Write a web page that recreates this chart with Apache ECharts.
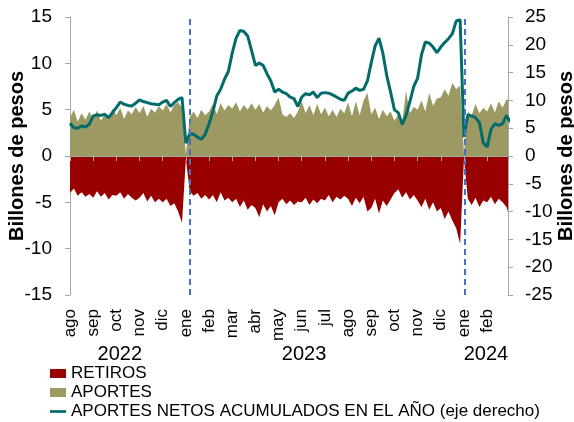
<!DOCTYPE html>
<html>
<head>
<meta charset="utf-8">
<script src="https://cdn.jsdelivr.net/npm/echarts@6/dist/echarts.min.js"></script>
<style>
  html, body { margin: 0; padding: 0; background: #fff; }
  #chart { width: 574px; height: 422px; }
</style>
</head>
<body>
<div id="chart"></div>
<script>
// etiquetas del eje x (un mes por tick, desde ago-2022)
const meses = ['ago', 'sep', 'oct', 'nov', 'dic', 'ene', 'feb', 'mar', 'abr', 'may', 'jun', 'jul', 'ago', 'sep', 'oct', 'nov', 'dic', 'ene', 'feb']
const anios = ['2022', '2023', '2024']
const posicionAnios = [2.15, 10.1, 17.95]
const cortesAnuales = [5.18, 17.05]
const puntosPorMes = 6

// billones de pesos, eje izquierdo (6 lecturas por mes)
const aportes = [
  4.1, 5.0, 3.7, 4.6, 3.9, 4.8,
  4.0, 4.9, 3.8, 4.5, 4.2, 5.1,
  4.4, 5.2, 4.0, 4.9, 4.5, 5.3,
  4.6, 5.4, 4.2, 5.1, 4.7, 5.4,
  4.9, 5.6, 4.7, 5.5, 5.8, 5.2,
  0.2, 4.2, 4.8, 4.1, 5.0, 4.4,
  4.8, 5.6, 4.5, 5.7, 4.9, 5.5,
  5.1, 5.8, 4.8, 5.5, 5.0, 5.7,
  5.0, 5.6, 4.7, 5.4, 4.9, 5.5,
  6.3, 4.5, 4.2, 4.6, 4.1, 4.8,
  5.9, 4.6, 5.5, 4.4, 5.6, 4.5,
  5.2, 4.3, 5.0, 4.2, 5.1, 4.6,
  5.8, 4.3, 5.9, 4.4, 6.0, 6.8,
  4.5, 5.2, 4.0, 5.0, 4.3, 4.8,
  3.8, 4.5, 3.6, 7.0, 4.6, 5.3,
  5.0, 6.0, 4.8, 6.8, 5.4, 6.2,
  6.3, 7.2, 6.5, 7.9, 7.2, 7.6,
  0.3, 4.8, 4.4, 5.6, 4.6, 5.2,
  4.8, 5.7, 4.7, 5.9, 5.2, 6.1,
  6.0
]

const retiros = [
  -4.0, -3.5, -4.3, -3.9, -4.4, -4.1,
  -4.5, -3.8, -4.4, -4.0, -4.7, -4.2,
  -4.3, -3.9, -4.6, -4.1, -4.5, -4.8,
  -4.5, -4.0, -4.9, -4.3, -5.0, -4.6,
  -5.0, -4.6, -5.4, -5.1, -6.0, -7.2,
  -0.3, -3.8, -4.3, -4.0, -4.6, -4.2,
  -4.7, -4.2, -5.0, -3.9, -4.8, -4.5,
  -5.0, -4.6, -5.5, -4.8, -5.8, -5.3,
  -5.6, -6.6, -5.2, -6.0, -5.4, -6.4,
  -5.0, -4.6, -5.2, -4.8, -5.3, -4.9,
  -5.0, -4.5, -5.3, -4.7, -5.1, -4.6,
  -4.8, -4.2, -5.0, -4.4, -4.7, -4.3,
  -4.6, -5.4, -4.5, -5.1, -4.4, -6.0,
  -5.6, -4.6, -6.2, -4.8, -5.4, -4.7,
  -4.0, -3.6, -4.5, -3.9, -4.7, -4.2,
  -4.8, -5.5, -4.6, -5.8, -5.0, -6.0,
  -5.6, -6.8, -6.0, -7.0, -7.8, -9.5,
  -0.3, -4.6, -5.3, -4.5, -5.5, -4.8,
  -5.0, -4.4, -5.2, -4.6, -5.0, -5.5,
  -6.8
]

// eje derecho
const netosAcumulados = [
  5.9, 5.1, 5.0, 5.4, 5.2, 5.7,
  7.2, 7.4, 7.3, 7.5, 6.9, 7.8,
  8.7, 9.7, 9.3, 9.1, 9.0, 9.5,
  10.1, 9.8, 9.6, 9.4, 9.3, 9.2,
  9.7, 10.0, 8.9, 9.6, 10.2, 10.5,
  2.3, 4.0, 3.9, 3.4, 3.0, 3.9,
  5.8, 8.0, 10.8, 12.0, 13.8, 15.2,
  18.5, 21.2, 22.6, 22.4, 21.6, 19.0,
  16.3, 16.7, 16.3, 14.8, 13.5, 11.5,
  12.0, 11.5, 11.2, 10.6, 10.3, 8.9,
  10.6, 11.2, 11.0, 11.5, 10.5, 11.3,
  11.4, 11.3, 11.0, 10.6, 10.2, 10.0,
  11.3, 11.7, 12.2, 11.8, 12.0, 13.5,
  16.8, 19.8, 21.2, 18.5, 14.5, 11.5,
  8.3, 7.8, 5.7, 7.3, 9.8, 12.5,
  14.0, 18.2, 20.5, 20.3, 19.6, 18.6,
  19.6, 20.4, 21.1, 22.0, 24.3, 24.5,
  3.4, 7.4, 7.2, 6.9, 6.0, 2.4,
  1.6, 4.8, 5.8, 5.5, 5.8, 7.3,
  6.1
]

const fuente = 'Arial, "Liberation Sans", sans-serif'
const gris = '#A6A6A6'
const conX = serie => serie.map((v, i) => [i / puntosPorMes, v])
const masCercano = (lista, v) => {
  let k = 0
  lista.forEach((p, i) => { if (Math.abs(p - v) < Math.abs(lista[k] - v)) k = i })
  return k
}

const chart = echarts.init(document.getElementById('chart'))

const ejeY = (min, max, posicion, gap, margen) => ({
  type: 'value',
  min: min,
  max: max,
  interval: 5,
  position: posicion,
  name: 'Billones de pesos',
  nameLocation: 'middle',
  nameRotate: 90,
  nameGap: gap,
  nameMoveOverlap: false,
  nameTextStyle: { fontFamily: fuente, fontSize: 20, fontWeight: 'bold', color: '#000' },
  axisLine: { show: true, onZero: false, lineStyle: { color: gris } },
  axisTick: { show: true, length: 5, lineStyle: { color: gris } },
  axisLabel: { fontFamily: fuente, fontSize: 19, margin: margen, color: '#000' },
  splitLine: { show: false }
})

const option = {
  animation: false,
  textStyle: { fontFamily: fuente, color: '#000' },
  grid: { left: 70, right: 66, top: 17, bottom: 127, outerBoundsMode: 'none', containLabel: false },
  legend: {
    orient: 'vertical',
    left: 50,
    top: 364,
    padding: 0,
    itemGap: 0,
    itemWidth: 16,
    itemHeight: 9,
    selectedMode: false,
    textStyle: { fontFamily: fuente, fontSize: 17, color: '#000', lineHeight: 19 },
    data: [
      { name: 'RETIROS', icon: 'rect' },
      { name: 'APORTES', icon: 'rect' },
      { name: 'APORTES NETOS ACUMULADOS EN EL AÑO (eje derecho)', icon: 'path://M0,0 L18,0 L18,3 L0,3 Z' }
    ]
  },
  xAxis: [
    {
      // meses
      type: 'value', min: 0, max: 18.9, interval: 1, position: 'bottom',
      axisLine: { show: false, onZero: false },
      axisTick: { show: false },
      splitLine: { show: false },
      axisLabel: {
        rotate: 90, margin: 14, fontFamily: fuente, fontSize: 17, color: '#000',
        formatter: v => (Math.abs(v - Math.round(v)) < 1e-6 && meses[Math.round(v)]) || ''
      }
    },
    {
      // linea de cero
      type: 'value', min: 0, max: 18.9, interval: 1, position: 'bottom', z: 5,
      axisLine: { show: true, onZero: true, lineStyle: { color: gris } },
      axisTick: { show: true, length: 5, lineStyle: { color: gris } },
      axisLabel: { show: false },
      splitLine: { show: false }
    },
    {
      // años
      type: 'value', min: 0, max: 18.9, position: 'bottom', offset: 40,
      axisLine: { show: false, onZero: false },
      axisTick: { show: false },
      splitLine: { show: false },
      axisLabel: {
        show: true, customValues: posicionAnios, margin: 9, fontFamily: fuente, fontSize: 20, color: '#000',
        formatter: v => anios[masCercano(posicionAnios, v)]
      }
    }
  ],
  yAxis: [
    ejeY(-15, 15, 'left', 43, 18),
    ejeY(-25, 25, 'right', 48, 17)
  ],
  series: [
    {
      name: 'RETIROS', type: 'line', data: conX(retiros), symbol: 'none',
      lineStyle: { width: 0 }, itemStyle: { color: '#990000' },
      areaStyle: { color: '#990000', opacity: 1 }
    },
    {
      name: 'APORTES', type: 'line', data: conX(aportes), symbol: 'none',
      lineStyle: { width: 0 }, itemStyle: { color: '#9C9A62' },
      areaStyle: { color: '#9C9A62', opacity: 1 }
    },
    {
      name: 'APORTES NETOS ACUMULADOS EN EL AÑO (eje derecho)', type: 'line', yAxisIndex: 1,
      data: conX(netosAcumulados), symbol: 'none', z: 4,
      lineStyle: { width: 3, color: '#036C6B' }, itemStyle: { color: '#036C6B' },
      markLine: {
        silent: true, symbol: 'none', label: { show: false },
        lineStyle: { color: '#4472C4', type: [6, 4], width: 2 },
        data: cortesAnuales.map(x => ({ xAxis: x }))
      }
    }
  ]
}

chart.setOption(option)
</script>
</body>
</html>
